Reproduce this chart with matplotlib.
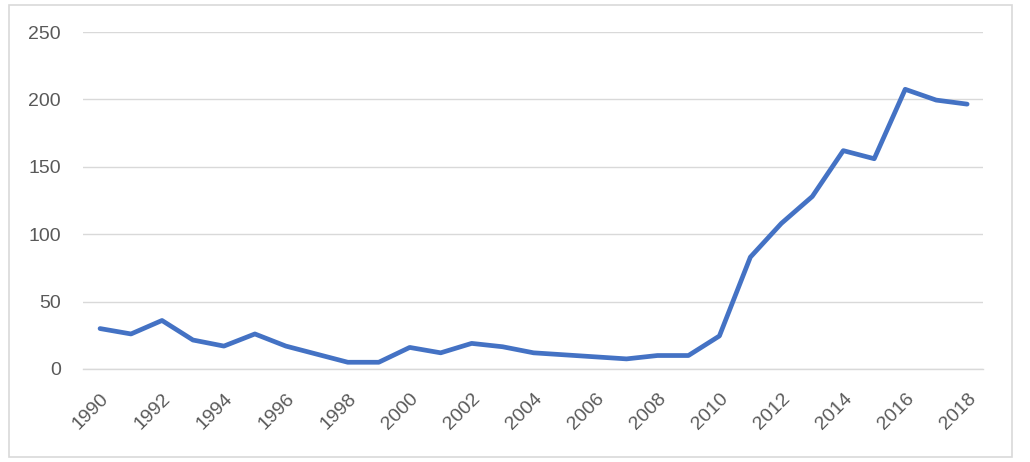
import matplotlib
matplotlib.use("Agg")
import matplotlib.pyplot as plt
from matplotlib.patches import Rectangle

# ── Data ───────────────────────────────────────────────────────────────────────

years = list(range(1990, 2019))
values = [30, 26, 36, 21.5, 17, 26, 17, 11, 5, 5,
          16, 12, 19, 16.5, 12, 10.5, 9, 7.5, 10, 10,
          24.5, 83, 108, 128, 162, 156, 207.5, 199.5, 196.5]
tick_years = list(range(1990, 2019, 2))
y_ticks = [0, 50, 100, 150, 200, 250]

# ── Style ──────────────────────────────────────────────────────────────────────

LINE_COLOR = "#4472C4"
GRID_COLOR = "#D9D9D9"
TEXT_COLOR = "#595959"

plt.rcParams.update({
    "font.family": ["Liberation Sans", "DejaVu Sans"],
    "font.size":   14,
})

fig = plt.figure(figsize=(10.3, 4.62), dpi=100)
ax = fig.add_axes([0.0806, 0.2013, 0.8734, 0.7294])

ax.plot(years, values, color=LINE_COLOR, linewidth=3.4,
        solid_joinstyle="round", solid_capstyle="round", zorder=3)

ax.set_xlim(years[0] - 0.55, years[-1] + 0.5)
ax.set_ylim(0, 250)
ax.set_yticks(y_ticks)
ax.set_xticks(tick_years)
ax.set_xticklabels([str(y) for y in tick_years], rotation=45,
                   ha="right", va="top", rotation_mode="anchor")

ax.yaxis.grid(True, color=GRID_COLOR, linewidth=1.0)
ax.set_axisbelow(True)
for side in ["top", "right", "left"]:
    ax.spines[side].set_visible(False)
ax.spines["bottom"].set_color(GRID_COLOR)
ax.spines["bottom"].set_linewidth(1.0)

ax.tick_params(axis="both", length=0, colors=TEXT_COLOR, labelsize=14)
ax.tick_params(axis="y", pad=16)
ax.tick_params(axis="x", pad=15)

# outer chart border
fig.patches.append(Rectangle((9 / 1030, 1 - 457 / 462), 1003 / 1030, 452 / 462,
                             transform=fig.transFigure, fill=False,
                             edgecolor=GRID_COLOR, linewidth=1.2))

fig.savefig("out.png", dpi=100)
